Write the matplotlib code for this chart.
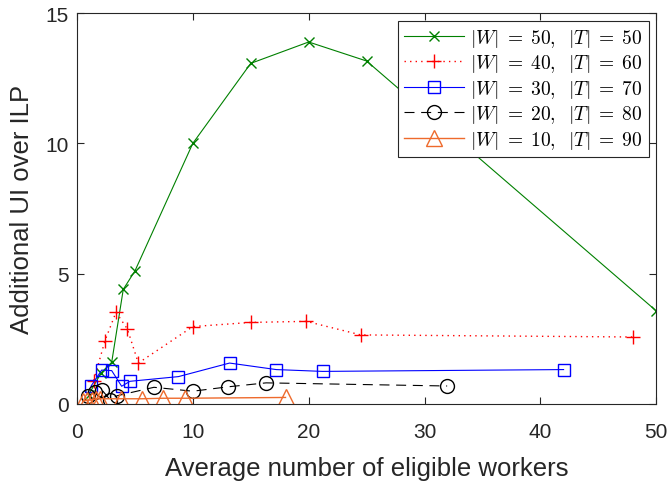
import matplotlib
matplotlib.use("Agg")
import matplotlib.pyplot as plt

plt.rcParams["font.family"] = ["Liberation Sans", "DejaVu Sans"]
plt.rcParams["mathtext.fontset"] = "cm"

# --------------------------------
# data
# --------------------------------
x_w50 = [1.0, 2.1, 3.0, 4.0, 5.0, 10.0, 15.0, 20.0, 25.0, 50.0]
y_w50 = [0.35, 1.2, 1.6, 4.4, 5.1, 10.0, 13.07, 13.89, 13.16, 3.57]

x_w40 = [1.45, 2.42, 3.37, 4.35, 5.3, 10.0, 15.0, 19.8, 24.5, 48.0]
y_w40 = [0.9, 2.43, 3.52, 2.88, 1.57, 2.97, 3.13, 3.17, 2.65, 2.57]

x_w30 = [1.21, 2.13, 3.0, 3.86, 4.58, 8.76, 13.17, 17.2, 21.2, 42.0]
y_w30 = [0.68, 1.30, 1.28, 0.68, 0.87, 1.05, 1.57, 1.32, 1.25, 1.32]

x_w20 = [0.95, 1.56, 2.15, 2.85, 3.5, 6.65, 10.0, 13.08, 16.33, 31.95]
y_w20 = [0.3, 0.45, 0.54, 0.17, 0.32, 0.64, 0.49, 0.66, 0.81, 0.69]

x_w10 = [0.5, 0.9, 1.3, 1.65, 2.0, 3.8, 5.6, 7.45, 9.3, 18.0]
y_w10 = [0.1, 0.15, 0.15, 0.2, 0.2, 0.2, 0.2, 0.22, 0.22, 0.25]

labels = [
    r"$|W|\;=\;50,\;\;|T|\;=\;50$",
    r"$|W|\;=\;40,\;\;|T|\;=\;60$",
    r"$|W|\;=\;30,\;\;|T|\;=\;70$",
    r"$|W|\;=\;20,\;\;|T|\;=\;80$",
    r"$|W|\;=\;10,\;\;|T|\;=\;90$",
]

# --------------------------------
# plot
# --------------------------------
fig = plt.figure(figsize=(6.69, 4.85), dpi=100)
ax = fig.add_axes([0.115, 0.165, 0.866, 0.806])

ax.plot(x_w50, y_w50, color="#008000", lw=0.8, marker="x", ms=7, mew=1.0,
        label=labels[0])
ax.plot(x_w40, y_w40, color="#ff0000", lw=1.0, ls=(0, (1, 3)), marker="+",
        ms=10, mew=1.0, label=labels[1])
ax.plot(x_w30, y_w30, color="#0000ff", lw=0.8, marker="s", ms=8, mew=1.0,
        mfc="none", label=labels[2])
ax.plot(x_w20, y_w20, color="black", lw=0.8, ls=(0, (9, 6)), marker="o",
        ms=10, mew=1.0, mfc="none", label=labels[3])
ax.plot(x_w10, y_w10, color="#EE6A2C", lw=1.0, marker="^", ms=11, mew=1.0,
        mfc="none", label=labels[4])

ax.set_xlim(0, 50)
ax.set_ylim(0, 15)
ax.set_xticks([0, 10, 20, 30, 40, 50])
ax.set_yticks([0, 5, 10, 15])

ax.tick_params(direction="in", top=True, right=True, labelsize=15,
               length=5, width=0.8, color="#262626", labelcolor="#262626")
ax.tick_params(axis="x", pad=13)
ax.tick_params(axis="y", pad=6)
for s in ax.spines.values():
    s.set_color("#262626")
    s.set_linewidth(0.8)

ax.set_xlabel("Average number of eligible workers", fontsize=18.5,
              color="#262626", labelpad=11)
ax.set_ylabel("Additional UI over ILP", fontsize=18.5, color="#262626",
              labelpad=8)

leg = ax.legend(loc="upper right", fontsize=14, handlelength=3.1,
                fancybox=False, framealpha=1, edgecolor="#262626",
                borderpad=0.3, labelspacing=0.18, handletextpad=0.3,
                borderaxespad=0.4)
leg.get_frame().set_linewidth(0.8)

fig.savefig("out.png", dpi=100)
